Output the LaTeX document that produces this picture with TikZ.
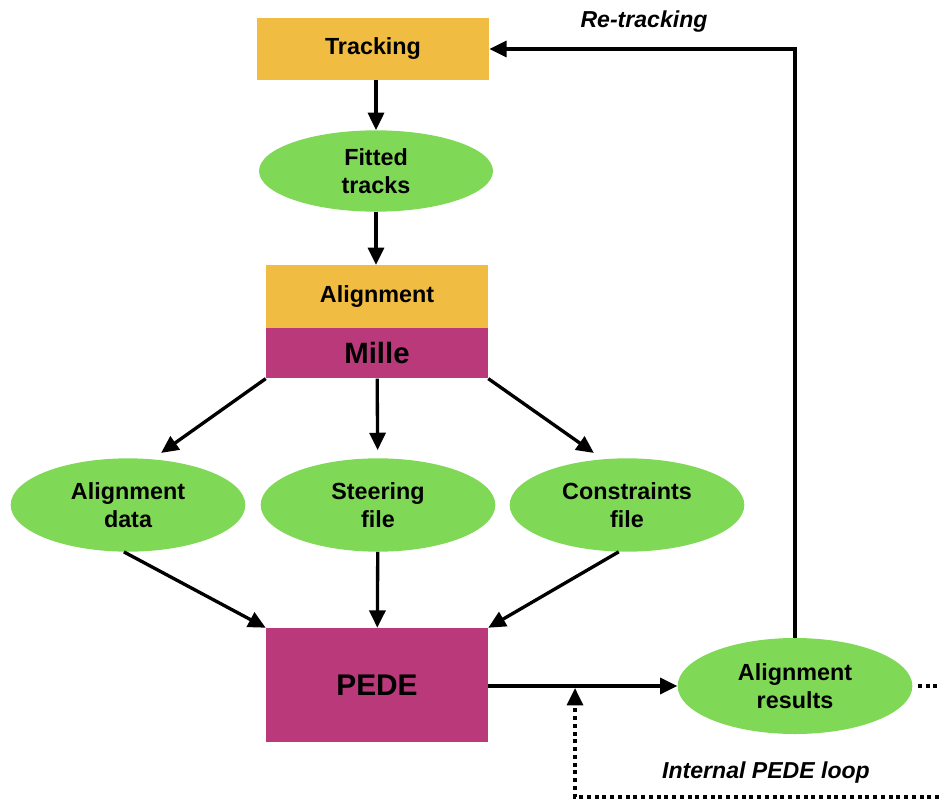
\documentclass[tikz,border=0pt]{standalone}
\usepackage{fontspec}
\setmainfont{Liberation Sans}
\usetikzlibrary{arrows.meta,positioning,shapes.geometric}
\definecolor{trackyellow}{HTML}{F0BC41}
\definecolor{pedepink}{HTML}{B9397A}
\definecolor{blobgreen}{HTML}{80D857}

\begin{document}
\begin{tikzpicture}[x=0.75pt,y=-0.75pt,>={Triangle[length=13pt,width=12pt]},
    box/.style={fill=#1, inner sep=0pt, font=\bfseries\fontsize{17.5}{20}\selectfont, align=center},
    blob/.style={ellipse, fill=blobgreen, minimum width=176pt, minimum height=70pt, inner sep=0pt, font=\bfseries\fontsize{17.5}{20.5}\selectfont, align=center},
    link/.style={->, line width=2.5pt},
    loop/.style={line width=2.8pt, dash pattern=on 3pt off 2.8pt},
    tag/.style={font=\bfseries\itshape\fontsize{17.3}{20}\selectfont}]
    \useasboundingbox (0,0) rectangle (939,799);

    % main column
    \node[box=trackyellow, minimum width=174pt, minimum height=46pt] (tracking) at (373,49) {Tracking};
    \node[blob, minimum width=175.5pt, minimum height=61pt] (fitted) at (376,171) {Fitted\\tracks};
    \node[box=trackyellow, minimum width=166.5pt, minimum height=47pt] (align) at (377,296.5) {Alignment};
    \node[box=pedepink, minimum width=166.5pt, minimum height=37.5pt, below=0pt of align, font=\bfseries\fontsize{22}{24}\selectfont] (mille) {Mille};

    % Mille output files
    \node[blob] (adata) at (128,505) {Alignment\\data};
    \node[blob] (sfile) at (378,505) {Steering\\file};
    \node[blob] (cfile) at (627,505) {Constraints\\file};

    \node[box=pedepink, minimum width=166.5pt, minimum height=85.5pt, font=\bfseries\fontsize{22.4}{24}\selectfont] (pede) at (377,685) {PEDE};
    \node[blob, minimum height=72pt] (results) at (795,686) {Alignment\\results};

    \coordinate (more) at (939,686);
    \coordinate (loopstart) at (939,797);
    \coordinate (loopin) at (575,688);

    \draw[link] (tracking.south -| fitted) -- (fitted);
    \draw[link] (fitted) -- (fitted |- align.north);
    \draw[link, shorten >=8pt] (mille.south west) -- (adata.62);
    \draw[link, shorten >=6pt] (mille) -- (sfile);
    \draw[link, shorten >=8pt] (mille.south east) -- (cfile.118);
    \draw[link] (adata.-95) -- (pede.north west);
    \draw[link] (sfile) -- (pede);
    \draw[link] (cfile.-100) -- (pede.north east);
    \draw[link] (pede.east |- results) -- (results);

    % re-tracking feedback
    \draw[link] (results.north) |- (tracking.east);
    \node[tag] at (644,22) {Re-tracking};

    % internal pede loop
    \draw[loop, shorten <=4pt] (results.east) -- (more);
    \draw[loop] (loopstart) -| ([yshift=-10pt]loopin);
    \draw[->, line width=2.5pt] ([yshift=-11pt]loopin) -- (loopin);
    \node[tag] at (766,773) {Internal PEDE loop};
\end{tikzpicture}
\end{document}
